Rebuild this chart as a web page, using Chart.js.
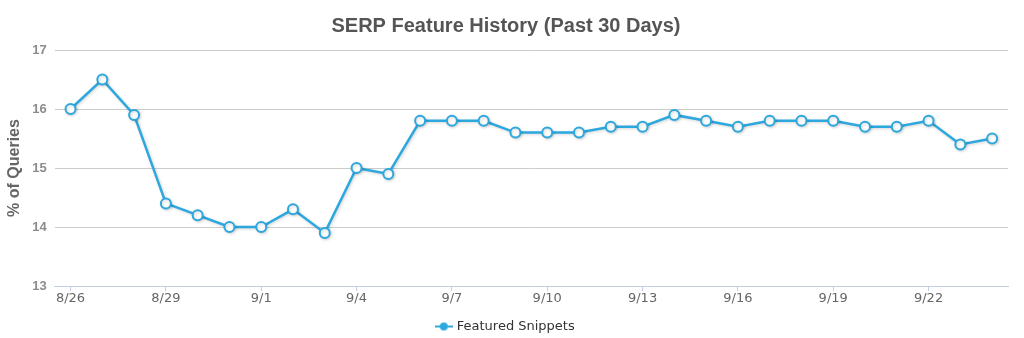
<!DOCTYPE html>
<html>
<head>
<meta charset="utf-8">
<script src="https://cdn.jsdelivr.net/npm/chart.js@4.4.1/dist/chart.umd.min.js"></script>
<style>
    html, body { margin: 0; padding: 0; background: #ffffff; }
    #serpChart { display: block; }
</style>
</head>
<body>
<canvas id="serpChart" width="1024" height="338"></canvas>
<script>
// Daily share of queries showing a featured snippet
const dayLabels = [
    '8/26', '8/27', '8/28', '8/29', '8/30', '8/31',
    '9/1', '9/2', '9/3', '9/4', '9/5', '9/6', '9/7', '9/8', '9/9', '9/10',
    '9/11', '9/12', '9/13', '9/14', '9/15', '9/16', '9/17', '9/18', '9/19',
    '9/20', '9/21', '9/22', '9/23', '9/24'
];
const snippetShare = [
    16.0, 16.5, 15.9, 14.4, 14.2, 14.0, 14.0, 14.3, 13.9, 15.0,
    14.9, 15.8, 15.8, 15.8, 15.6, 15.6, 15.6, 15.7, 15.7, 15.9,
    15.8, 15.7, 15.8, 15.8, 15.8, 15.7, 15.7, 15.8, 15.4, 15.5
];
const yTicks = [13, 14, 15, 16, 17];

const lineBlue = '#2ca8df';
const labelStep = 3;

// Legend symbol: short line with a filled dot in the middle
function makeLegendSymbol() {
    const c = document.createElement('canvas');
    c.width = 18;
    c.height = 10;
    const g = c.getContext('2d');
    g.strokeStyle = lineBlue;
    g.lineWidth = 2;
    g.beginPath();
    g.moveTo(0, 5);
    g.lineTo(18, 5);
    g.stroke();
    g.fillStyle = lineBlue;
    g.beginPath();
    g.arc(9, 5, 4, 0, Math.PI * 2);
    g.fill();
    return c;
}

// Soft drop shadow under the series line
const lineShadow = {
    id: 'lineShadow',
    beforeDatasetDraw(chart) {
        const ctx = chart.ctx;
        ctx.save();
        ctx.shadowColor = 'rgba(0, 0, 0, 0.18)';
        ctx.shadowBlur = 3;
        ctx.shadowOffsetX = 1;
        ctx.shadowOffsetY = 1;
    },
    afterDatasetDraw(chart) {
        chart.ctx.restore();
    }
};

const ctx = document.getElementById('serpChart').getContext('2d');
new Chart(ctx, {
    type: 'line',
    data: {
        labels: dayLabels,
        datasets: [{
            label: 'Featured Snippets',
            data: snippetShare,
            borderColor: lineBlue,
            borderWidth: 2.5,
            pointRadius: 5,
            pointBorderWidth: 2,
            pointBackgroundColor: '#ffffff',
            pointBorderColor: lineBlue,
            tension: 0,
            fill: false
        }]
    },
    options: {
        responsive: false,
        animation: false,
        layout: {
            padding: { left: 4, right: 16, top: 0, bottom: -5 }
        },
        plugins: {
            title: {
                display: true,
                text: 'SERP Feature History (Past 30 Days)',
                color: '#555555',
                font: { family: "'Liberation Sans', Arial, sans-serif", size: 20, weight: 'bold' },
                padding: { top: 14, bottom: 12 }
            },
            legend: {
                position: 'bottom',
                labels: {
                    usePointStyle: true,
                    pointStyle: makeLegendSymbol(),
                    color: '#333333',
                    font: { family: "'DejaVu Sans', sans-serif", size: 13 },
                    padding: 3
                }
            },
            tooltip: { enabled: false }
        },
        scales: {
            x: {
                offset: true,
                border: { display: true, color: '#c0d0e0', width: 1 },
                grid: {
                    drawOnChartArea: false,
                    drawTicks: true,
                    tickLength: 5,
                    tickColor: (c) => (c.index % labelStep === 0 ? '#c0d0e0' : 'rgba(0,0,0,0)')
                },
                afterFit: (axis) => {
                    axis.height = 31;
                },
                ticks: {
                    autoSkip: false,
                    maxRotation: 0,
                    padding: 0,
                    color: '#666666',
                    font: { family: "'DejaVu Sans', sans-serif", size: 13 },
                    callback: function(value, index) {
                        return index % labelStep === 0 ? this.getLabelForValue(value) : '';
                    }
                }
            },
            y: {
                min: yTicks[0],
                max: yTicks[yTicks.length - 1],
                afterBuildTicks: (axis) => {
                    axis.ticks = yTicks.map(v => ({ value: v }));
                },
                border: { display: false },
                grid: {
                    color: (c) => (c.index === 0 ? 'rgba(0,0,0,0)' : '#cccccc'),
                    lineWidth: 1,
                    drawTicks: false
                },
                ticks: {
                    padding: 8,
                    color: '#8c8c8c',
                    font: { family: "'Liberation Sans', Arial, sans-serif", size: 13, weight: 'bold' }
                },
                title: {
                    display: true,
                    text: '% of Queries',
                    color: '#666666',
                    font: { family: "'Liberation Sans', Arial, sans-serif", size: 16, weight: 'bold' },
                    padding: { top: 1, bottom: 0 }
                }
            }
        }
    },
    plugins: [lineShadow]
});
</script>
</body>
</html>
